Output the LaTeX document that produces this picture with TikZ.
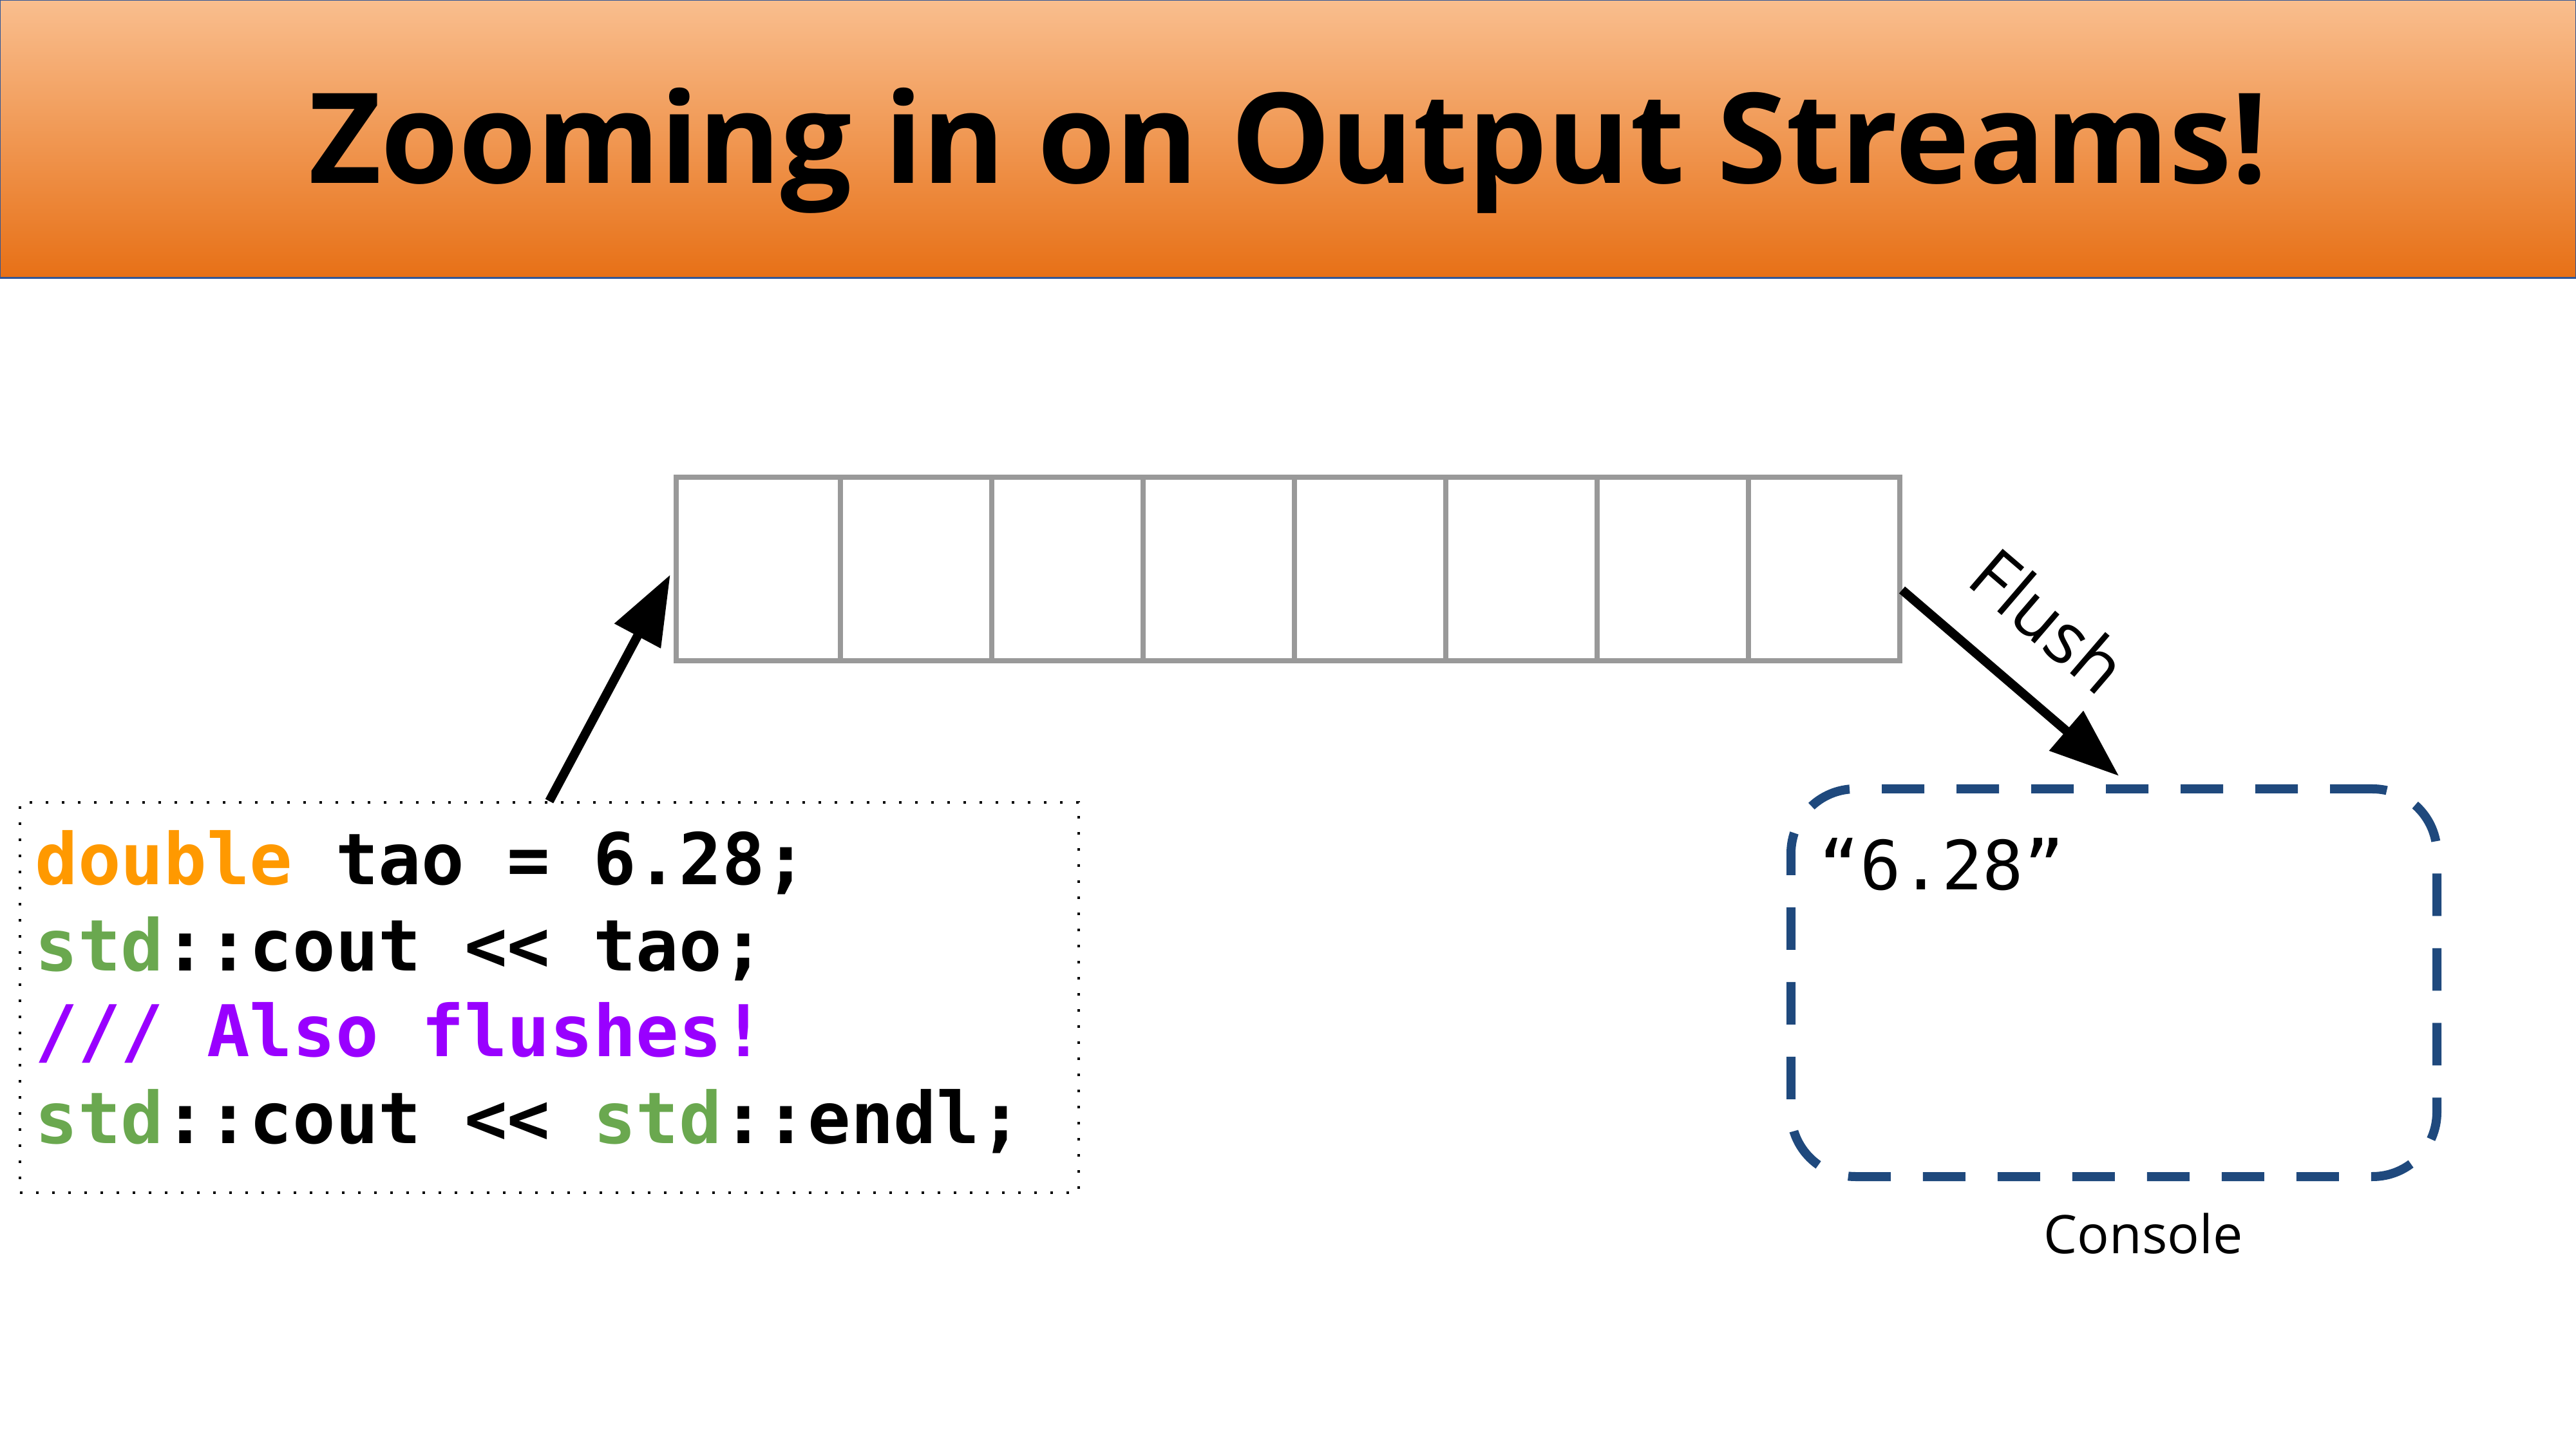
\documentclass[tikz,border=0pt]{standalone}
\usepackage{fontspec}
\setmainfont{Open Sans}
\newfontfamily\codefont{DejaVu Sans Mono}
\usepackage{xcolor}
\usetikzlibrary{arrows.meta,positioning}

\definecolor{bandtop}{RGB}{249,190,142}
\definecolor{bandbot}{RGB}{231,112,22}
\definecolor{bandline}{RGB}{47,85,151}
\definecolor{kwcolor}{RGB}{255,153,0}
\definecolor{nscolor}{RGB}{106,168,79}
\definecolor{cmcolor}{RGB}{153,0,255}
\definecolor{consolecolor}{RGB}{31,73,125}

\begin{document}
\begin{tikzpicture}[
  cell/.style={draw=black!40, line width=0.08cm, minimum height=2.85cm, inner sep=0pt},
  arrow/.style={-{Triangle[length=1.08cm, width=0.78cm]}, line width=0.14cm},
  codeline/.style={anchor=base west, inner sep=0pt, font=\codefont\bfseries\fontsize{31.5}{38}\selectfont}
]
\useasboundingbox (0,0) rectangle (40,-22.5);

% title bar
\shadedraw[top color=bandtop, bottom color=bandbot, draw=bandline, line width=0.03cm] (0,0) rectangle (40,-4.32);
\node[anchor=base, font=\bfseries\fontsize{55.5}{66}\selectfont] (title) at (20,-2.85) {Zooming in on Output Streams!};

% buffer
\node[cell, minimum width=2.55cm] (cell1) at (11.77,-8.835) {};
\foreach \i in {2,...,8}
  \node[cell, minimum width=2.35cm] (cell\i) at ({14.22+(\i-2)*2.35},-8.835) {};

% code
\node[draw, dash pattern=on 0.04cm off 0.21cm, line width=0.04cm, minimum width=16.44cm, minimum height=6.06cm] (code) at (8.53,-15.49) {};
\node[codeline] (line1) at (0.54,-13.74) {\textcolor{kwcolor}{double} tao = 6.28;};
\node[codeline] (line2) at (0.54,-15.08) {\textcolor{nscolor}{std}::cout << tao;};
\node[codeline] (line3) at (0.54,-16.41) {\textcolor{cmcolor}{/// Also flushes!}};
\node[codeline] (line4) at (0.54,-17.75) {\textcolor{nscolor}{std}::cout << \textcolor{nscolor}{std}::endl;};

% console
\node[draw=consolecolor, line width=0.14cm, dash pattern=on 0.66cm off 0.5cm, rounded corners=1cm, minimum width=10.03cm, minimum height=6.02cm] (console) at (32.825,-15.26) {};
\node[anchor=base west, inner sep=0pt, font=\codefont\fontsize{30}{36}\selectfont] (output) at (28.24,-13.82) {“6.28”};
\node[anchor=base, inner sep=0pt, font=\fontsize{23.5}{28}\selectfont] (consolelabel) at (33.28,-19.46) {Console};

\draw[arrow, shorten >=0.1cm] (code.north) -- (cell1.west);
\draw[arrow, shorten >=0.2cm] (cell8.-15) -- ([xshift=0.23cm]console.north)
  node[pos=0.44, sloped, above=0.63cm, inner sep=0pt, font=\fontsize{31.5}{38}\selectfont] (flushlabel) {Flush};
\end{tikzpicture}
\end{document}
